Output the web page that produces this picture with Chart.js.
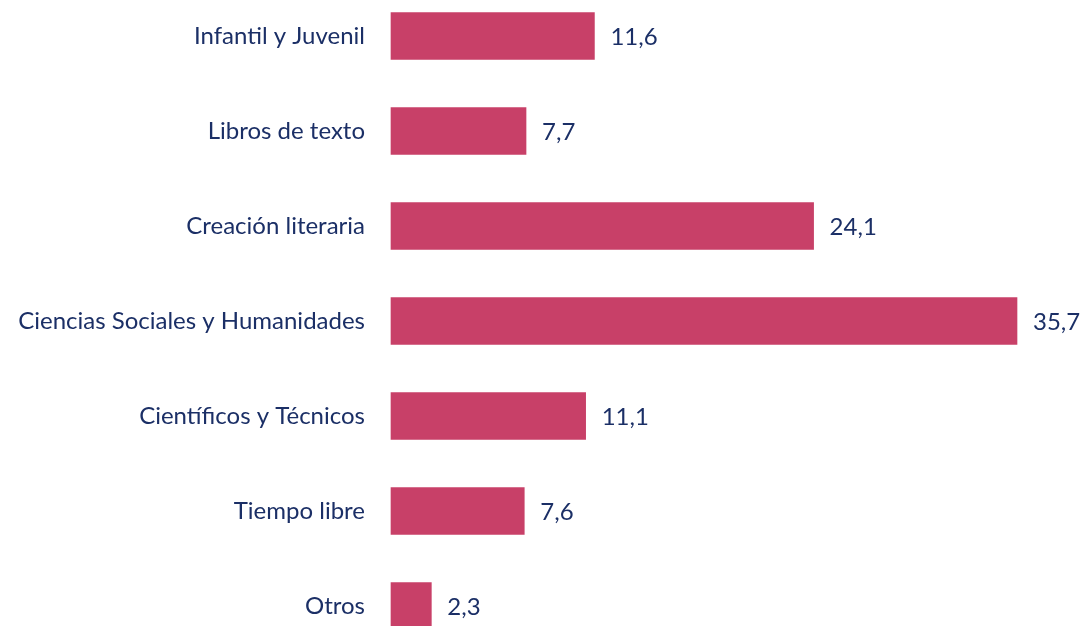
<!DOCTYPE html>
<html><head><meta charset="utf-8">
<style>html,body{margin:0;padding:0;background:#fff}#wrap{width:1084px;height:626px;position:relative}</style>
<script src="https://cdn.jsdelivr.net/npm/chart.js@4.4.1/dist/chart.umd.min.js"></script>
</head><body><div id="wrap"><canvas id="c" width="1084" height="626"></canvas></div>
<script>
const categories = ["Infantil y Juvenil","Libros de texto","Creación literaria","Ciencias Sociales y Humanidades","Científicos y Técnicos","Tiempo libre","Otros"];
const values = [11.6, 7.7, 24.1, 35.7, 11.1, 7.6, 2.3];
const barColor = "#C84068";
const textColor = "#1B2F66";
const fontFamily = "Lato, 'Open Sans', sans-serif";

const labelPlugin = {
  id: 'valueLabels',
  afterDatasetsDraw(chart) {
    const ctx = chart.ctx;
    const meta = chart.getDatasetMeta(0);
    ctx.save();
    ctx.font = "24px " + fontFamily;
    ctx.fillStyle = textColor;
    ctx.textAlign = 'left';
    ctx.textBaseline = 'middle';
    meta.data.forEach((bar, i) => {
      const txt = values[i].toFixed(1).replace('.', ',');
      ctx.fillText(txt, bar.x + 16, bar.y + 1);
    });
    ctx.restore();
  }
};

new Chart(document.getElementById('c'), {
  type: 'bar',
  data: { labels: categories, datasets: [{ data: values, backgroundColor: barColor, barThickness: 47, clip: false }] },
  options: {
    indexAxis: 'y', responsive: false, animation: false,
    layout: { padding: { top: 36, bottom: 20, left: 0, right: 0 } },
    plugins: { legend: { display: false }, tooltip: { enabled: false } },
    scales: {
      x: { min: 0, max: 35.7 * 693 / 626, display: false, grid: { display: false } },
      y: {
        offset: false,
        grid: { display: false, drawTicks: false }, border: { display: false },
        ticks: { color: textColor, font: { family: fontFamily, size: 24 }, padding: 26 },
        afterFit(scale) { scale.width = 391; scale.paddingTop = 0; scale.paddingBottom = 0; }
      }
    }
  },
  plugins: [labelPlugin]
});
</script></body></html>
